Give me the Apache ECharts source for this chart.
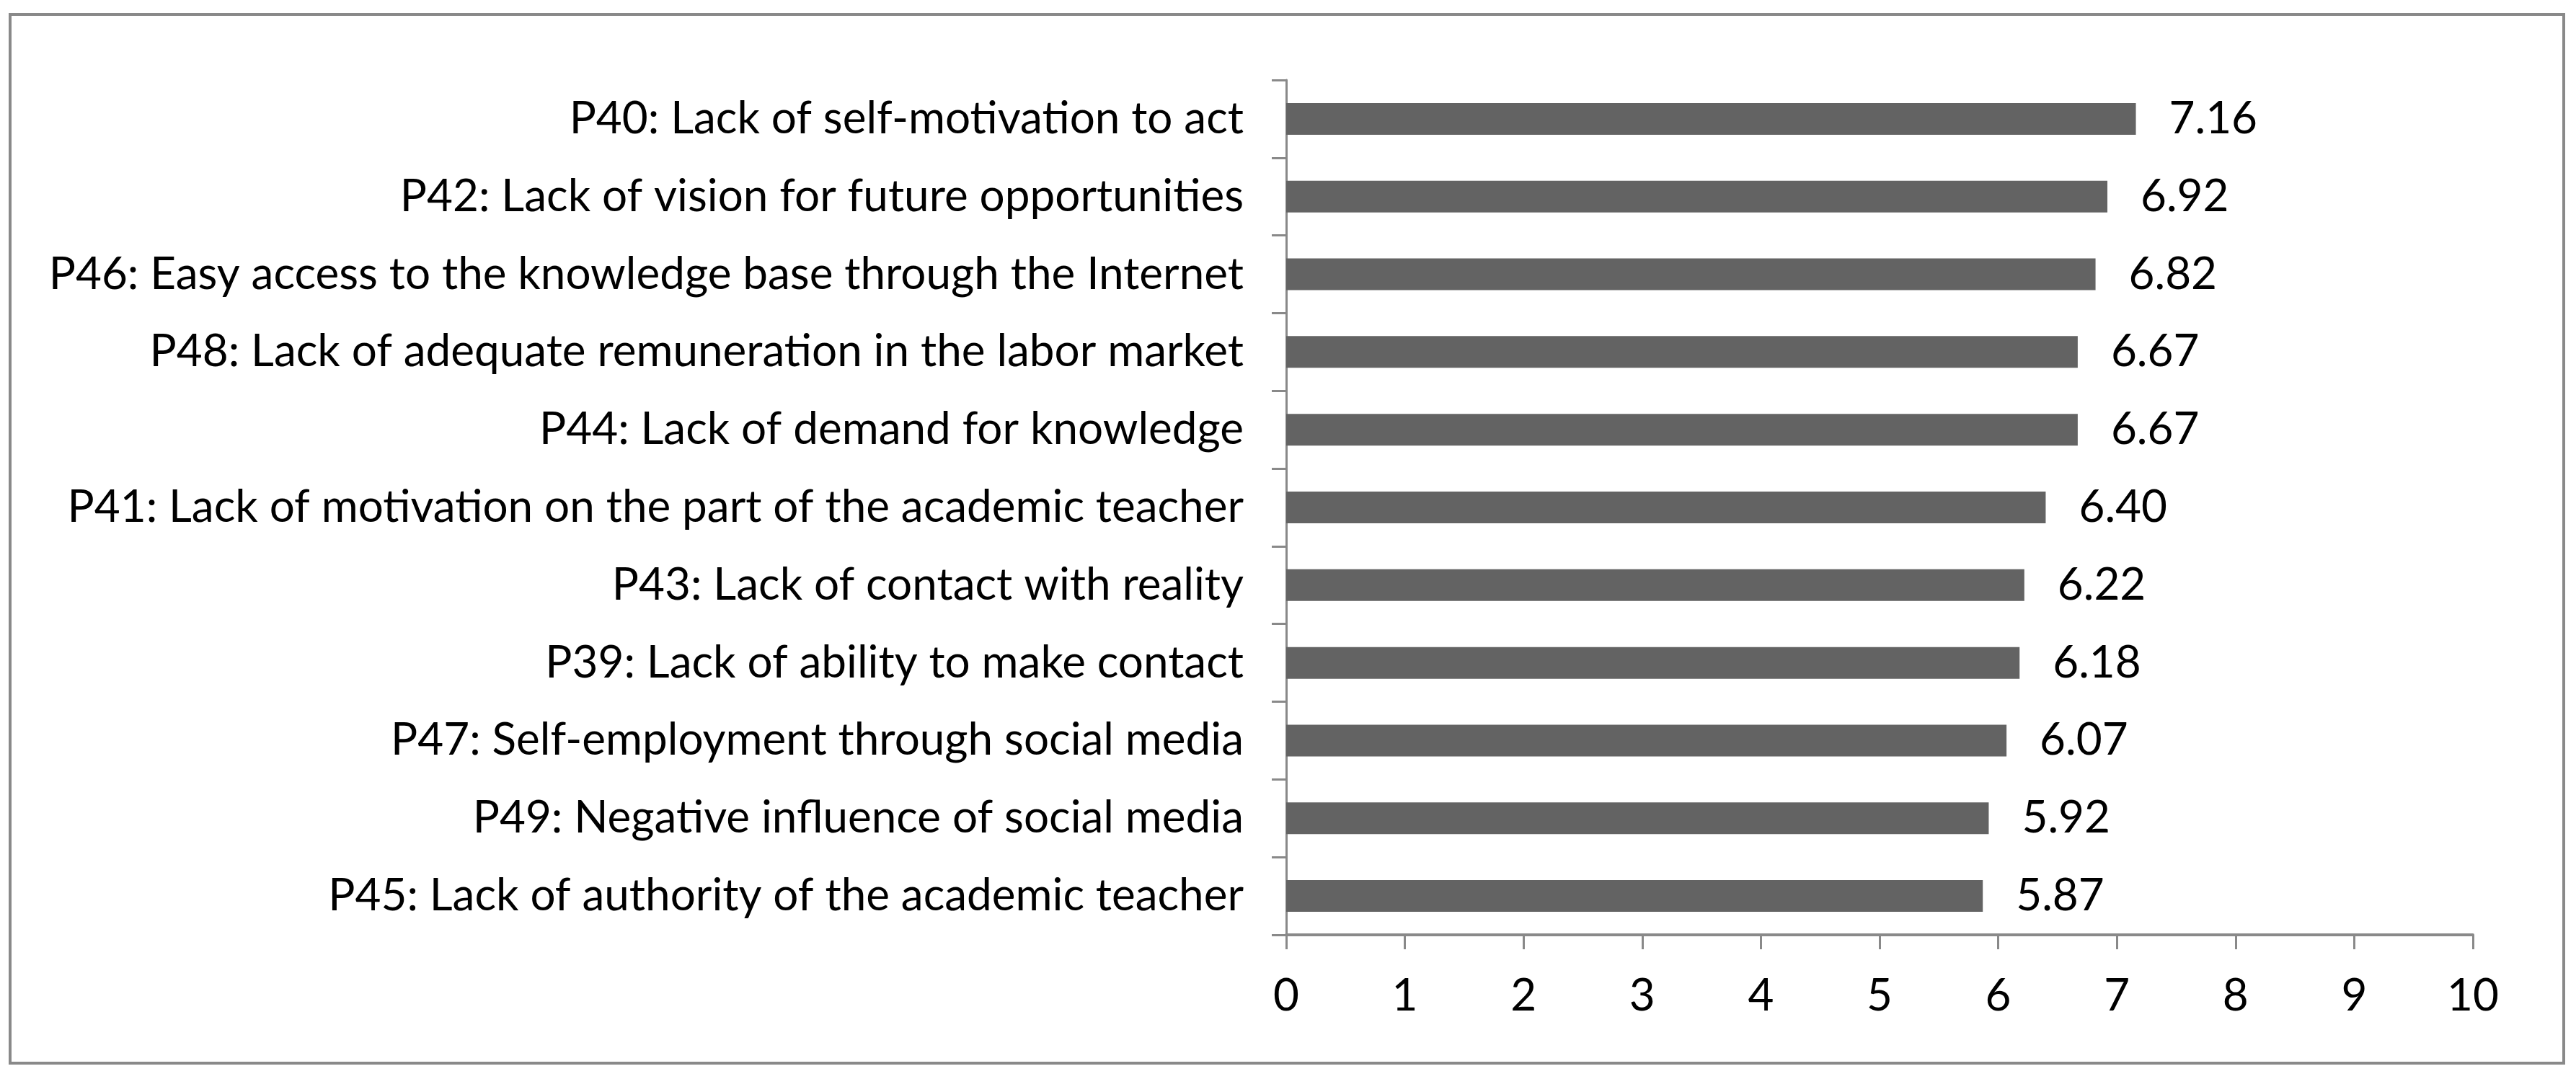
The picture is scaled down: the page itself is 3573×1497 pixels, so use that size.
<!DOCTYPE html>
<html>
<head>
<meta charset="utf-8">
<script src="https://cdn.jsdelivr.net/npm/echarts@6/dist/echarts.min.js"></script>
<style>
  html, body { margin: 0; padding: 0; background: #fff; }
  #chart { width: 3573px; height: 1497px; }
</style>
</head>
<body>
<div id="chart"></div>
<script>
const categories = [
  'P40: Lack of self-motivation to act',
  'P42: Lack of vision for future opportunities',
  'P46: Easy access to the knowledge base through the Internet',
  'P48: Lack of adequate remuneration in the labor market',
  'P44: Lack of demand for knowledge',
  'P41: Lack of motivation on the part of the academic teacher',
  'P43: Lack of contact with reality',
  'P39: Lack of ability to make contact',
  'P47: Self-employment through social media',
  'P49: Negative influence of social media',
  'P45: Lack of authority of the academic teacher',
]
const scores = [7.16, 6.92, 6.82, 6.67, 6.67, 6.40, 6.22, 6.18, 6.07, 5.92, 5.87]
const xTicks = [0, 10, 1] // min, max, step

const chart = echarts.init(document.getElementById('chart'))
const font = 'Lato'
const axisGray = '#898989'

const option = {
  backgroundColor: '#ffffff',
  animation: false,
  graphic: [
    {
      type: 'rect',
      shape: { x: 14, y: 20, width: 3542, height: 1455 },
      style: { fill: 'none', stroke: axisGray, lineWidth: 4 },
    },
  ],
  grid: {
    left: 1784,
    right: 143,
    top: 111,
    bottom: 200,
  },
  xAxis: {
    type: 'value',
    min: xTicks[0],
    max: xTicks[1],
    interval: xTicks[2],
    axisLine: { show: true, lineStyle: { color: axisGray, width: 4 } },
    axisTick: { show: true, length: 20, lineStyle: { color: axisGray, width: 3 } },
    splitLine: { show: false },
    axisLabel: {
      margin: 54,
      color: '#000',
      fontFamily: font,
      fontSize: 62,
    },
  },
  yAxis: {
    type: 'category',
    inverse: true,
    data: categories,
    axisLine: { show: true, lineStyle: { color: axisGray, width: 3 } },
    axisTick: { show: true, length: 20, lineStyle: { color: axisGray, width: 3 } },
    axisLabel: {
      margin: 59,
      color: '#000',
      fontFamily: font,
      fontSize: 62,
    },
  },
  series: [
    {
      type: 'bar',
      data: scores,
      barWidth: 44,
      itemStyle: { color: '#636363' },
      label: {
        show: true,
        position: 'right',
        distance: 46,
        color: '#000',
        fontFamily: font,
        fontSize: 62,
        formatter: function (p) {
          return p.value.toFixed(2)
        },
      },
    },
  ],
}
chart.setOption(option)
</script>
</body>
</html>
